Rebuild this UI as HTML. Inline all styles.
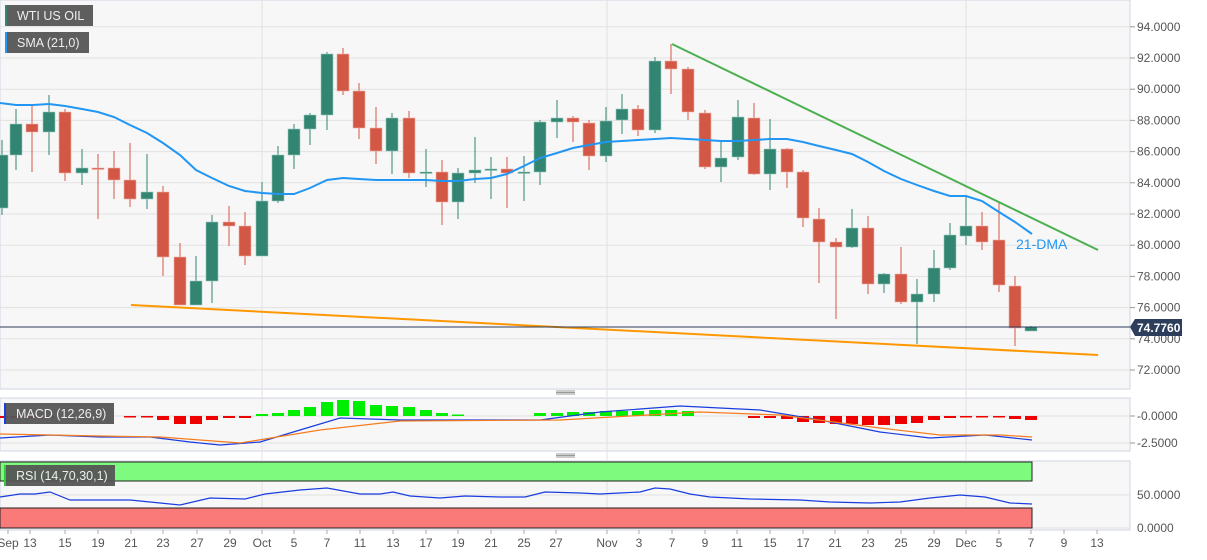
<!DOCTYPE html>
<html><head><meta charset="utf-8"><style>
body{margin:0;background:#fff;}
svg text{font-family:"Liberation Sans",sans-serif;}
</style></head><body>
<svg id="s" width="1207" height="555" xmlns="http://www.w3.org/2000/svg">
<rect x="0" y="0" width="1130" height="389" fill="#f7f7f7" stroke="#cfd4e0"/>
<rect x="0" y="398" width="1130" height="53" fill="#f7f7f7" stroke="#cfd4e0"/>
<rect x="0" y="461" width="1130" height="69" fill="#f7f7f7" stroke="#cfd4e0"/>
<g id="grid" stroke="#e2e2e2" stroke-width="1"></g>
<g id="draw"></g>
</svg>
<script>
const NS="http://www.w3.org/2000/svg";
const g=document.getElementById('draw'),gr=document.getElementById('grid');
function el(p,t,a,txt){const e=document.createElementNS(NS,t);for(const k in a)e.setAttribute(k,a[k]);if(txt!==undefined)e.textContent=txt;p.appendChild(e);return e;}
// grid
const levels=[94,92,90,88,86,84,82,80,78,76,74,72];
levels.forEach((p,i)=>{const y=370-(p-72)*15.6;el(gr,'line',{x1:0,x2:1130,y1:y,y2:y});
el(g,'line',{x1:1130,x2:1135,y1:y,y2:y,stroke:'#999'});
el(g,'text',{x:1137,y:y+4,'font-size':12,fill:'#555'},p.toFixed(4));});
[262,607,966].forEach(x=>{el(gr,'line',{x1:x,x2:x,y1:0,y2:530});});
[416,443,495,528].forEach(y=>el(gr,'line',{x1:0,x2:1130,y1:y,y2:y}));
// RSI bands
el(g,'rect',{x:0,y:462,width:1032,height:19,fill:'#7efa7e',stroke:'#222'});
el(g,'rect',{x:0,y:508,width:1032,height:20,fill:'#fa7a7a',stroke:'#222'});
// candles [x,o,c,h,l] pixels; green if c<o (y smaller)
const C=[[2,208,155,140,215],[16,155,124,109,170],[32,124,132,106,172],[49,132,112,95,155],[65,112,173,109,181],[82,173,168,149,185],[98,168,169,154,219],[114,168,180,151,199],[130,180,199,143,207],[147,199,192,154,209],[163,192,257,186,276],[180,257,305,243,305],[196,305,281,256,305],[212,281,222,215,303],[229,222,226,206,246],[245,226,256,212,265],[262,256,201,182,256],[278,201,155,146,203],[294,155,129,124,169],[310,129,115,113,145],[327,115,54,52,130],[343,54,91,48,95],[359,91,128,83,139],[376,128,151,107,164],[392,151,118,113,174],[409,118,173,111,178],[426,173,172,149,187],[442,172,202,160,225],[458,202,173,168,219],[475,173,170,137,183],[491,170,169,157,199],[507,169,173,157,208],[524,173,172,156,201],[540,172,122,120,185],[557,122,118,100,138],[573,118,122,116,142],[589,123,156,120,170],[606,156,121,107,162],[622,120,109,94,134],[638,109,130,105,136],[655,130,61,57,133],[671,61,69,44,94],[688,69,112,67,120],[705,113,167,110,169],[721,167,158,142,182],[738,157,117,100,160],[754,118,174,103,175],[770,174,149,119,190],[787,149,172,148,188],[803,172,218,170,227],[819,219,242,208,283],[836,242,247,238,319],[852,247,228,209,248],[868,228,284,216,294],[884,284,274,273,293],[901,274,302,247,304],[917,302,294,279,344],[934,294,268,250,302],[950,268,235,223,270],[966,236,226,196,245],[982,226,242,212,250],[999,240,285,202,292],[1015,286,328,276,346],[1031,331,327,326,331]];
C.forEach(([x,o,c,h,l])=>{const up=c<o;const col=up?'#318571':'#d35745';
el(g,'line',{x1:x,x2:x,y1:h,y2:l,stroke:col,'stroke-width':1});
const t=Math.min(o,c),b=Math.max(o,c);el(g,'rect',{x:x-6,y:t,width:12,height:Math.max(1.5,b-t),fill:col,stroke:up?'#9cc9bd':'#f0b0a8','stroke-width':0.6});});
// SMA
const S=[[0,103],[16,105],[33,105],[49,104],[65,106],[82,109],[98,112],[114,117],[130,125],[147,133],[163,143],[180,155],[196,170],[212,178],[229,186],[245,191],[262,193],[278,194],[294,194],[310,188],[327,180],[343,178],[359,179],[376,180],[392,180],[409,180],[426,180],[442,181],[458,181],[475,179],[491,178],[507,174],[524,166],[540,158],[557,153],[573,148],[589,145],[606,142],[622,141],[638,140],[655,139],[671,138],[688,139],[705,140],[721,141],[738,141],[754,140],[770,139],[787,139],[803,142],[819,146],[836,150],[852,154],[868,162],[884,171],[901,179],[917,185],[934,191],[950,196],[966,196],[982,201],[999,212],[1015,222],[1032,234]];
el(g,'polyline',{points:S.map(p=>p.join(',')).join(' '),fill:'none',stroke:'#2196f3','stroke-width':2});
el(g,'line',{x1:672,y1:44,x2:1098,y2:250,stroke:'#4caf50','stroke-width':2});
el(g,'line',{x1:131,y1:305,x2:1098,y2:355,stroke:'#ff9800','stroke-width':2});
el(g,'text',{x:1016,y:249,'font-size':14,fill:'#2196f3'},'21-DMA');
// price line
el(g,'line',{x1:0,x2:1130,y1:327,y2:327,stroke:'#2c3e5c','stroke-width':1});
el(g,'path',{d:'M1130,327 L1135,319 L1182,319 L1182,336 L1135,336 Z',fill:'#2c3e5c'});
el(g,'text',{x:1137,y:332,'font-size':12,'font-weight':'bold',fill:'#fff'},'74.7760');
// MACD labels
el(g,'line',{x1:1130,x2:1135,y1:416,y2:416,stroke:'#999'});el(g,'line',{x1:1130,x2:1135,y1:443,y2:443,stroke:'#999'});
el(g,'text',{x:1137,y:420,'font-size':12,fill:'#555'},'-0.0000');
el(g,'text',{x:1137,y:447,'font-size':12,fill:'#555'},'-2.5000');
el(g,'text',{x:1137,y:499,'font-size':12,fill:'#555'},'50.0000');
el(g,'text',{x:1137,y:532,'font-size':12,fill:'#555'},'0.0000');
// histogram
const H=[[2,418],[16,418],[33,418],[49,417],[130,416.5],[147,417],[163,420],[180,424],[196,424],[212,420],[229,418],[245,418],[262,414],[278,413],[294,410],[310,407],[327,402],[343,400],[359,401],[376,405],[392,406],[409,407],[426,410],[442,413],[458,414.5],[540,413],[557,413],[573,412],[589,412],[606,411],[622,411],[638,411],[655,410],[671,410],[688,411],[754,418],[770,418],[787,419],[803,422],[819,423],[836,424],[852,424],[868,425],[884,425],[901,424],[917,423],[934,420],[950,418],[966,417],[982,417],[999,417],[1015,419],[1031,420]];
H.forEach(([x,y])=>{const up=y<416;el(g,'rect',{x:x-6,y:Math.min(y,416),width:12,height:Math.max(1.5,Math.abs(y-416)),fill:up?'#00ee00':'#ee0000'});});
el(g,'polyline',{points:'0,438 50,435 100,437 150,437 190,442 220,445 260,442 300,430 340,418 400,420 540,420 600,412 680,406 760,410 820,420 880,432 930,438 985,435 1032,440',fill:'none',stroke:'#1a3de0','stroke-width':1.2});
el(g,'polyline',{points:'0,434 100,436 160,437 240,443 320,430 400,421 560,420 700,412 780,415 880,428 940,435 1000,435 1032,437',fill:'none',stroke:'#f57c1e','stroke-width':1.2});
// RSI
el(g,'polyline',{points:'0,497 20,494 35,494 50,492 70,500 130,500 150,502 180,505 210,498 245,499 265,494 300,490 327,488 360,494 380,494 393,492 410,496 440,498 465,496 500,497 525,497 545,492 580,493 600,494 620,493 640,492 655,488 670,489 690,494 710,497 750,499 800,500 830,502 870,503 900,502 930,498 960,495 985,497 1010,503 1032,504',fill:'none',stroke:'#1a3de0','stroke-width':1.2});
// x labels
const X=[['Sep',8],['13',30],['15',65],['19',98],['21',131],['23',163],['27',197],['29',230],['Oct',262],['5',294],['7',327],['11',360],['13',393],['17',426],['19',458],['21',491],['25',524],['27',556],['Nov',607],['3',639],['7',672],['9',705],['11',737],['15',770],['17',803],['21',835],['23',868],['25',901],['29',934],['Dec',966],['5',999],['7',1031],['9',1064],['13',1097]];
X.forEach(([t,x])=>{el(g,'line',{x1:x,x2:x,y1:530,y2:534,stroke:'#aaa'});el(g,'text',{x:x,y:547,'font-size':12,fill:'#555','text-anchor':'middle'},t);});
// handles
[393,456].forEach(y=>{for(let i=0;i<3;i++)el(g,'line',{x1:556,x2:575,y1:y-2+i*1.5,y2:y-2+i*1.5,stroke:'#777','stroke-width':0.7});});
// label boxes
function box(x,y,w,h,c,t){el(g,'rect',{x:x,y:y,width:w,height:h,fill:'#555','fill-opacity':0.95});el(g,'rect',{x:x,y:y,width:2,height:h,fill:c});el(g,'text',{x:x+12,y:y+h/2+4.5,'font-size':12.5,fill:'#eee'},t);}
box(5,5,88,21,'#318571','WTI US OIL');
box(5,32,84,21,'#2196f3','SMA (21,0)');
box(4,403,110,21,'#1a3de0','MACD (12,26,9)');
box(4,465,111,21,'#3c3','RSI (14,70,30,1)');
</script>
</body></html>
